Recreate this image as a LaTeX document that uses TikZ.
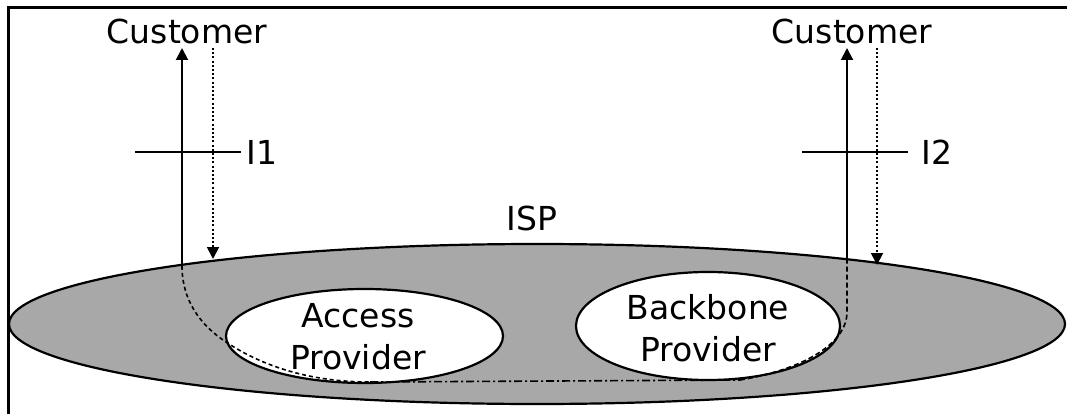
\documentclass[tikz,border=0pt]{standalone}
\usepackage{fontspec}
\newfontfamily\lblfont{DejaVu Sans}
\usetikzlibrary{shapes.geometric,arrows.meta}
\definecolor{ispgray}{RGB}{168,168,168}
\begin{document}
\begin{tikzpicture}[x=1pt,y=-1pt,
  lbl/.style={font=\lblfont\fontsize{33}{42}\selectfont, inner sep=0pt, align=center},
  region/.style={ellipse, draw, line width=2.2pt, inner sep=0pt},
  upline/.style={line width=2pt, -{Triangle[width=12pt,length=12pt]}},
  downline/.style={line width=1.8pt, dash pattern=on 2pt off 2.2pt, -{Triangle[width=12pt,length=12pt]}},
  crossbar/.style={line width=2pt},
  pathA/.style={line width=1.6pt, dash pattern=on 4pt off 3pt},
  pathB/.style={line width=1.6pt, dash pattern=on 8pt off 3pt on 2pt off 3pt},
  pathC/.style={line width=1.6pt, dash pattern=on 5pt off 3pt}]
\useasboundingbox (0,0) rectangle (1067,414);
\fill[white] (0,0) rectangle (1067,414);

% frame (top and left edges)
\draw[line width=2.5pt] (8.5,414) -- (8.5,7.5) -- (1067,7.5);

% ISP region with its two provider regions
\node[region, fill=ispgray, minimum width=1056pt, minimum height=160pt] (isparea) at (537,324) {};
\node[region, fill=white, minimum width=277pt, minimum height=94pt] (access) at (364.5,336) {};
\node[region, fill=white, minimum width=264pt, minimum height=108pt] (backbone) at (708,326) {};

% labels
\node[lbl] (isp) at (532,218) {ISP};
\node[lbl] (acctxt) at (358,337) {Access\\Provider};
\node[lbl] (bbtxt) at (708,328) {Backbone\\Provider};
\node[lbl] (cust1) at (187,31) {Customer};
\node[lbl] (cust2) at (852,31) {Customer};
\node[lbl] (i1) at (262,152) {I1};
\node[lbl] (i2) at (937,152) {I2};

% connector end points
\coordinate (lfoot) at (182,266);
\coordinate (ltip) at (182,48);
\coordinate (ldtop) at (213,48);
\coordinate (ldbot) at (213,259);
\coordinate (rfoot) at (847,259);
\coordinate (rtip) at (847,48);
\coordinate (rdtop) at (877,48);
\coordinate (rdbot) at (877,265);
\coordinate (bar1w) at (135,152);
\coordinate (bar1e) at (241,152);
\coordinate (bar2w) at (802,152);
\coordinate (bar2e) at (908,152);
\coordinate (accin) at (226,342);
\coordinate (accout) at (370,382);
\coordinate (bbin) at (740,380);
\coordinate (rturn) at (847,312);

% customer links
\draw[upline] (lfoot) -- (ltip);
\draw[downline] (ldtop) -- (ldbot);
\draw[upline] (rfoot) -- (rtip);
\draw[downline] (rdtop) -- (rdbot);

% interface bars
\draw[crossbar] (bar1w) -- (bar1e);
\draw[crossbar] (bar2w) -- (bar2e);

% path through the providers
\draw[pathA] (lfoot) .. controls (182,300) and (200,325) .. (accin)
  .. controls (262,366) and (310,382) .. (accout);
\draw[pathB] (accout) -- (bbin);
\draw[pathC] (bbin) .. controls (800,370) and (847,345) .. (rturn) -- (rfoot);
\end{tikzpicture}
\end{document}
